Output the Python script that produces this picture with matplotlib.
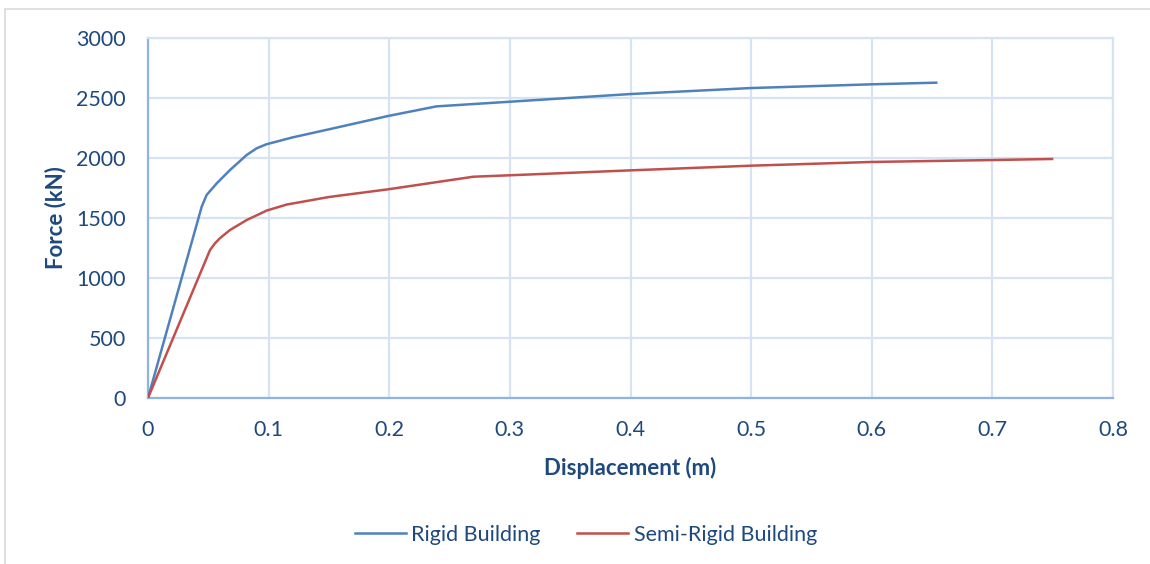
import matplotlib
matplotlib.use("Agg")
import matplotlib.pyplot as plt
from matplotlib.patches import Rectangle
from matplotlib.lines import Line2D

# Pushover curves (displacement in m, base shear in kN)
rigid_disp = [0, 0.0445, 0.0486, 0.057, 0.068, 0.0818, 0.0901, 0.0984, 0.12, 0.15,
              0.199, 0.239, 0.3, 0.4, 0.5, 0.6, 0.6545]
rigid_force = [0, 1594, 1692, 1789, 1900, 2025, 2081, 2115, 2172, 2239,
               2350, 2430, 2469, 2533, 2583, 2614, 2628]

semi_disp = [0, 0.0514, 0.0555, 0.06, 0.068, 0.0818, 0.0984, 0.115, 0.15, 0.199,
             0.2697, 0.3, 0.4, 0.5, 0.6, 0.7, 0.7505]
semi_force = [0, 1233, 1289, 1335, 1400, 1483, 1562, 1612, 1675, 1739,
              1844, 1856, 1897, 1936, 1967, 1983, 1992]

x_ticks = [0, 0.1, 0.2, 0.3, 0.4, 0.5, 0.6, 0.7, 0.8]
x_tick_labels = ["0", "0.1", "0.2", "0.3", "0.4", "0.5", "0.6", "0.7", "0.8"]
y_ticks = [0, 500, 1000, 1500, 2000, 2500, 3000]

series_names = ["Rigid Building", "Semi-Rigid Building"]
series_colors = ["#4F81BD", "#C0504D"]

text_color = "#1F497D"
grid_color = "#D6E3F3"
axis_color = "#8EB4E3"
font = "Lato"

fig = plt.figure(figsize=(11.5, 5.64), dpi=100)

# outer chart frame
fig.patches.append(Rectangle((5 / 1150, -0.05), 1.2, 1 - 9 / 564 + 0.05,
                             transform=fig.transFigure, fill=False,
                             edgecolor="#D9D9D9", linewidth=1.2, zorder=0))

ax = fig.add_axes([148 / 1150, 1 - 398 / 564, (1113 - 148) / 1150, (398 - 38) / 564])

ax.plot(rigid_disp, rigid_force, color=series_colors[0], linewidth=1.8,
        solid_capstyle="butt", solid_joinstyle="round", zorder=3)
ax.plot(semi_disp, semi_force, color=series_colors[1], linewidth=1.8,
        solid_capstyle="butt", solid_joinstyle="round", zorder=3)

ax.set_xlim(0, 0.8)
ax.set_ylim(0, 3000)
ax.set_xticks(x_ticks)
ax.set_xticklabels(x_tick_labels)
ax.set_yticks(y_ticks)

ax.grid(True, color=grid_color, linewidth=1.6, zorder=0)
ax.set_axisbelow(True)
for side in ["top", "right"]:
    ax.spines[side].set_color(grid_color)
    ax.spines[side].set_linewidth(1.6)
for side in ["left", "bottom"]:
    ax.spines[side].set_color(axis_color)
    ax.spines[side].set_linewidth(1.6)

ax.tick_params(length=0, labelsize=15.5, labelcolor=text_color)
ax.tick_params(axis="x", pad=16)
ax.tick_params(axis="y", pad=16)
for lbl in ax.get_xticklabels() + ax.get_yticklabels():
    lbl.set_fontfamily(font)

ax.set_xlabel("Displacement (m)", fontsize=16, fontweight="bold",
              color=text_color, fontfamily=font, labelpad=12)
ax.set_ylabel("Force (kN)", fontsize=16, fontweight="bold",
              color=text_color, fontfamily=font, labelpad=7)

handles = [Line2D([], [], color=c, linewidth=1.8) for c in series_colors]
leg = fig.legend(handles, series_names, loc="center", bbox_to_anchor=(586 / 1150, 1 - 535 / 564),
                 ncol=2, frameon=False, handlelength=2.37, handletextpad=0.25,
                 columnspacing=1.7, prop={"family": font, "size": 15.5})
for t in leg.get_texts():
    t.set_color(text_color)

fig.savefig("out.png", dpi=100, facecolor="white")
